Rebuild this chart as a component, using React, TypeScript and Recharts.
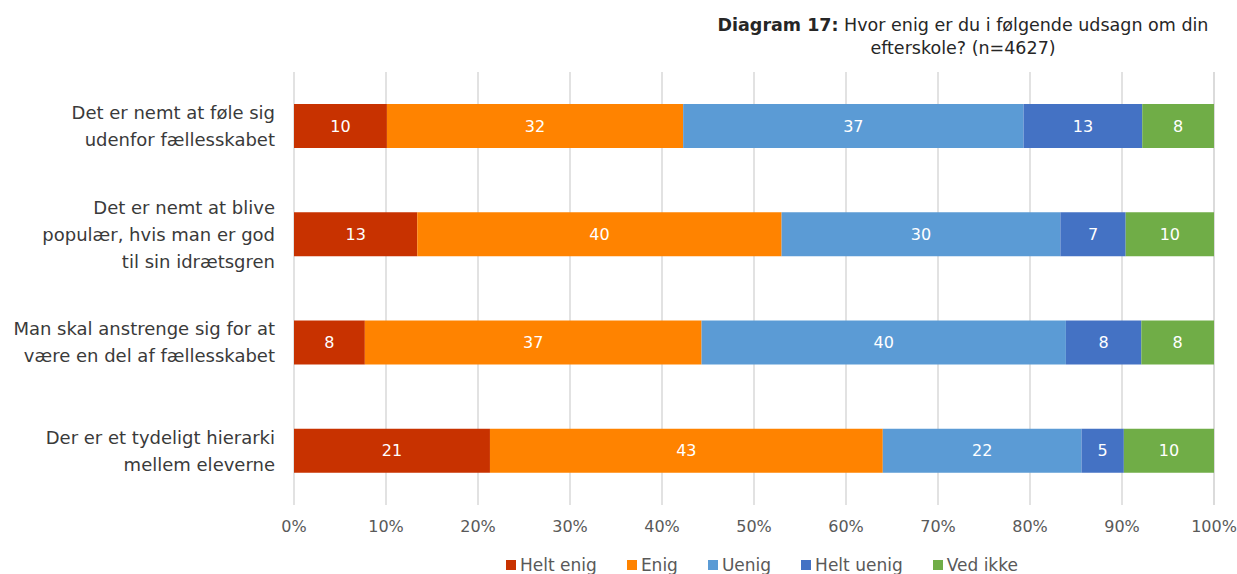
import { Bar, BarChart, CartesianGrid, LabelList, XAxis, YAxis } from "recharts";

const FONT = "'DejaVu Sans', sans-serif";

const categories = [
  ["Det er nemt at føle sig", "udenfor fællesskabet"],
  ["Det er nemt at blive", "populær, hvis man er god", "til sin idrætsgren"],
  ["Man skal anstrenge sig for at", "være en del af fællesskabet"],
  ["Der er et tydeligt hierarki", "mellem eleverne"],
];

const heltEnig = [10.1, 13.4, 7.7, 21.3];
const enig = [32.2, 39.6, 36.6, 42.7];
const uenig = [37.0, 30.3, 39.6, 21.6];
const heltUenig = [12.9, 7.1, 8.2, 4.6];
const vedIkke = [7.8, 9.6, 7.9, 9.8];

const xTicks = [0, 10, 20, 30, 40, 50, 60, 70, 80, 90, 100];

const SERIES = [
  { key: "Helt enig", color: "#C83200" },
  { key: "Enig", color: "#FF8300" },
  { key: "Uenig", color: "#5B9BD5" },
  { key: "Helt uenig", color: "#4472C4" },
  { key: "Ved ikke", color: "#70AD47" },
];

const data = categories.map((lines, i) => ({
  cat: i,
  "Helt enig": heltEnig[i],
  Enig: enig[i],
  Uenig: uenig[i],
  "Helt uenig": heltUenig[i],
  "Ved ikke": vedIkke[i],
}));

function CatTick({ x, y, payload }: any) {
  const lines = categories[payload.value];
  const lh = 27;
  const start = y - ((lines.length - 1) * lh) / 2;
  return (
    <text x={x - 11} y={start} textAnchor="end" fill="#3a3a3a" fontSize={18} fontFamily={FONT}>
      {lines.map((l, i) => (
        <tspan key={i} x={x - 11} y={start + i * lh} dy="0.35em">{l}</tspan>
      ))}
    </text>
  );
}

export default function App() {
  return (
    <div style={{ position: "absolute", left: 0, top: 0, width: 1237, height: 574, background: "#fff", overflow: "hidden" }}>
      <div style={{ position: "absolute", left: 693, top: 14, width: 540, textAlign: "center", fontFamily: FONT, fontSize: 17.5, lineHeight: "23px", color: "#262626" }}>
        <span style={{ fontWeight: 700 }}>Diagram 17:</span> Hvor enig er du i følgende udsagn om din efterskole? (n=4627)
      </div>
      <BarChart
        width={1237}
        height={574}
        data={data}
        layout="vertical"
        margin={{ top: 72, right: 23, bottom: 39, left: 0 }}
      >
        <CartesianGrid horizontal={false} stroke="#d9d9d9" strokeWidth={1.5} />
        <XAxis
          type="number"
          domain={[0, 100]}
          ticks={xTicks}
          tickFormatter={(v) => `${v}%`}
          axisLine={false}
          tickLine={false}
          tick={{ fill: "#595959", fontSize: 16, fontFamily: FONT }}
          tickMargin={10}
          interval={0}
        />
        <YAxis type="category" dataKey="cat" width={294} axisLine={false} tickLine={false} tick={<CatTick />} interval={0} />
        {SERIES.map((s) => (
          <Bar key={s.key} dataKey={s.key} stackId="a" fill={s.color} barSize={44} isAnimationActive={false}>
            <LabelList
              dataKey={s.key}
              position="center"
              formatter={(v: any) => Math.round(Number(v))}
              fill="#ffffff"
              fontSize={16}
              fontFamily={FONT}
            />
          </Bar>
        ))}
      </BarChart>
      <div style={{ position: "absolute", left: 262, top: 556, width: 1000, display: "flex", justifyContent: "center", gap: 30, fontFamily: FONT, fontSize: 17, lineHeight: "18px", color: "#595959" }}>
        {SERIES.map((s) => (
          <span key={s.key} style={{ display: "flex", alignItems: "center" }}>
            <span style={{ width: 10, height: 10, background: s.color, marginRight: 4, display: "inline-block" }} />
            {s.key}
          </span>
        ))}
      </div>
    </div>
  );
}
